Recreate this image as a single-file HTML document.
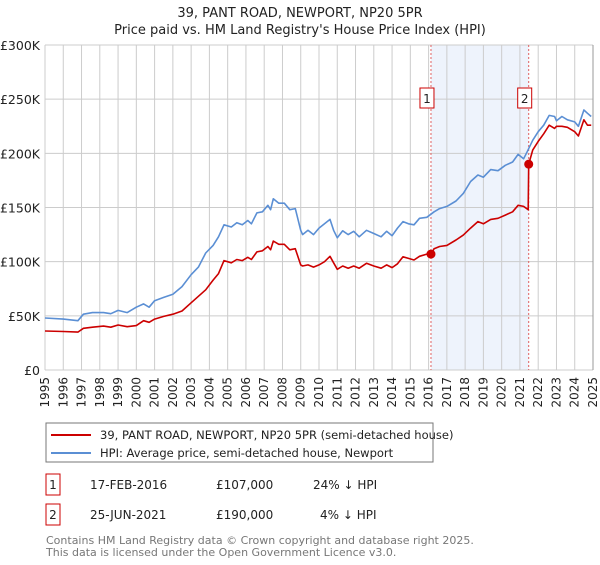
<!DOCTYPE html>
<html><head><meta charset="utf-8"><style>
body{margin:0;background:#fff;font-family:"Liberation Sans","DejaVu Sans",sans-serif;}
svg text{font-family:"DejaVu Sans","Liberation Sans",sans-serif;}
</style></head><body>
<svg id="chart" width="600" height="560" viewBox="0 0 600 560" xmlns="http://www.w3.org/2000/svg">
<text x="300" y="17" text-anchor="middle" font-size="13" fill="#222">39, PANT ROAD, NEWPORT, NP20 5PR</text>
<text x="300" y="34" text-anchor="middle" font-size="13" fill="#222">Price paid vs. HM Land Registry's House Price Index (HPI)</text>
<g id="plot"></g>
<g>
<rect x="46" y="423" width="387" height="39" fill="#fff" stroke="#777"/>
<line x1="51" y1="435" x2="91" y2="435" stroke="#cc0000" stroke-width="2"/>
<text x="100" y="439" font-size="11.5" fill="#222">39, PANT ROAD, NEWPORT, NP20 5PR (semi-detached house)</text>
<line x1="51" y1="453" x2="91" y2="453" stroke="#5b8fd4" stroke-width="2"/>
<text x="100" y="457" font-size="11.5" fill="#222">HPI: Average price, semi-detached house, Newport</text>
</g>
<g font-size="12" fill="#222">
<rect x="46" y="474" width="14" height="21" fill="#fff" stroke="#cc0000"/>
<text x="53" y="489" text-anchor="middle">1</text>
<text x="90" y="489">17-FEB-2016</text>
<text x="216" y="489">£107,000</text>
<text x="313" y="489">24% ↓ HPI</text>
<rect x="46" y="504" width="14" height="21" fill="#fff" stroke="#cc0000"/>
<text x="53" y="519" text-anchor="middle">2</text>
<text x="90" y="519">25-JUN-2021</text>
<text x="216" y="519">£190,000</text>
<text x="320" y="519">4% ↓ HPI</text>
</g>
<text x="46" y="544" font-size="11" fill="#777">Contains HM Land Registry data © Crown copyright and database right 2025.</text>
<text x="46" y="556" font-size="11" fill="#777">This data is licensed under the Open Government Licence v3.0.</text>
</svg>
<script>
const yTicks=[0,50,100,150,200,250,300];
const yTickLabels=["£0","£50K","£100K","£150K","£200K","£250K","£300K"];
const xYears=[1995,1996,1997,1998,1999,2000,2001,2002,2003,2004,2005,2006,2007,2008,2009,2010,2011,2012,2013,2014,2015,2016,2017,2018,2019,2020,2021,2022,2023,2024,2025];
const hpiYears=[1995,1996,1996.8,1997.1,1997.6,1998.2,1998.6,1999,1999.5,2000,2000.4,2000.7,2001,2001.5,2002,2002.5,2003,2003.4,2003.8,2004.2,2004.5,2004.8,2005.2,2005.5,2005.8,2006.1,2006.3,2006.6,2006.9,2007.2,2007.35,2007.5,2007.8,2008.1,2008.4,2008.7,2009,2009.1,2009.4,2009.7,2010,2010.3,2010.6,2010.8,2011,2011.3,2011.6,2011.9,2012.2,2012.6,2013,2013.4,2013.7,2014,2014.3,2014.6,2014.9,2015.2,2015.5,2015.9,2016.3,2016.6,2017,2017.5,2017.9,2018.3,2018.7,2019,2019.4,2019.8,2020.2,2020.6,2020.9,2021.2,2021.4,2021.7,2022,2022.3,2022.6,2022.9,2023,2023.3,2023.6,2024,2024.2,2024.5,2024.7,2024.9];
const hpiValues=[48,47,45.5,51.5,53,53,52,55,53,58,61,58,64,67,70,77,88,95,108,115,123,134,132,136,134,138,135,145,146,152,148,158,154,154,148,149,129,125,129,125,131,135,139,129,122,128.5,125,128,123,129,126,123,128,124,131,137,135,134,140,141,146,149,151,156,163,174,180,178,185,184,189,192,199,195,201.5,212,220,226,235,234,230,234,231,229,225,240,237,234];
const priceYears=[1995,1996,1996.8,1997.1,1997.6,1998.2,1998.6,1999,1999.5,2000,2000.4,2000.7,2001,2001.5,2002,2002.5,2003,2003.4,2003.8,2004.2,2004.5,2004.8,2005.2,2005.5,2005.8,2006.1,2006.3,2006.6,2006.9,2007.2,2007.35,2007.5,2007.8,2008.1,2008.4,2008.7,2009,2009.1,2009.4,2009.7,2010,2010.3,2010.6,2010.8,2011,2011.3,2011.6,2011.9,2012.2,2012.6,2013,2013.4,2013.7,2014,2014.3,2014.6,2014.9,2015.2,2015.5,2015.9,2016.13,2016.3,2016.6,2017,2017.5,2017.9,2018.3,2018.7,2019,2019.4,2019.8,2020.2,2020.6,2020.9,2021.2,2021.45,2021.48,2021.7,2022,2022.3,2022.6,2022.9,2023,2023.3,2023.6,2024,2024.2,2024.5,2024.7,2024.9];
const priceValues=[36,35.5,35,38.5,39.5,40.5,39.5,41.5,40,41,45.5,44,47,49.5,51.5,54.5,62,68,74,83,89,101,99,102,101,104,102,109,110,114,111,119,116,116,111,112,97,96,97,95,97,100,105,99,93,96,94,96,94,98.5,96,94,97,94.5,98,104.5,103,101.5,105,107,107,112,114,115,120,124.5,131,137,135,139,140,143,146,152,151,148,190,203,211,218,226,223,225,225,224,220,216,231,226,226];
const saleYears=[2016.13,2021.48];
const saleValues=[107,190];
const saleLabels=["1","2"];

const L=45,R=593,T=45,B=370,Y0=1995,Y1=2025,VMAX=300;
const sx=y=>L+(y-Y0)/(Y1-Y0)*(R-L);
const sy=v=>B-v/VMAX*(B-T);
const NS="http://www.w3.org/2000/svg";
const g=document.getElementById('plot');
function mk(tag,attrs){const e=document.createElementNS(NS,tag);for(const k in attrs)e.setAttribute(k,attrs[k]);g.appendChild(e);return e;}

const shade=mk('rect',{x:sx(saleYears[0]),y:T,width:sx(saleYears[1])-sx(saleYears[0]),height:B-T,fill:'#eef3fc'});



xYears.forEach(yr=>{
  const l=mk('line',{x1:sx(yr),x2:sx(yr),y1:T,y2:B,stroke:'#cccccc','stroke-width':1});
  
  
  const t=mk('text',{x:0,y:0,'font-size':12,fill:'#222','text-anchor':'end',transform:`translate(${sx(yr)+4},${B+7}) rotate(-90)`});
  t.textContent=yr;
  
  
});
yTicks.forEach((v,i)=>{
  const l=mk('line',{x1:L,x2:R,y1:sy(v),y2:sy(v),stroke:'#cccccc','stroke-width':1});
  
  
  const t=mk('text',{x:40,y:sy(v)+5,'font-size':12.5,fill:'#222','text-anchor':'end'});
  t.textContent=yTickLabels[i];
  
  
});
const rb=mk('line',{x1:R,x2:R,y1:T,y2:B,stroke:'#999','stroke-width':1});



saleYears.forEach((yr,i)=>{
  const l=mk('line',{x1:sx(yr),x2:sx(yr),y1:T,y2:B,stroke:'#e06060','stroke-width':1,'stroke-dasharray':'2,2'});
  
  
});

function path(xs,vs){return xs.map((x,i)=>(i?'L':'M')+sx(x).toFixed(1)+','+sy(vs[i]).toFixed(1)).join('');}
const hp=mk('path',{d:path(hpiYears,hpiValues),fill:'none',stroke:'#5b8fd4','stroke-width':1.6,'stroke-linejoin':'round'});


const pp=mk('path',{d:path(priceYears,priceValues),fill:'none',stroke:'#cc0000','stroke-width':1.6,'stroke-linejoin':'round'});



saleYears.forEach((yr,i)=>{
  const c=mk('circle',{cx:sx(yr),cy:sy(saleValues[i]),r:4.5,fill:'#cc0000'});
  
  
  const bx=mk('rect',{x:sx(yr)-11,y:88,width:14,height:20,fill:'#fff',stroke:'#cc0000'});
  
  
  const t=mk('text',{x:sx(yr)-4,y:103,'font-size':12,fill:'#222','text-anchor':'middle'});
  t.textContent=saleLabels[i];
  
  
});
</script>
</body></html>
